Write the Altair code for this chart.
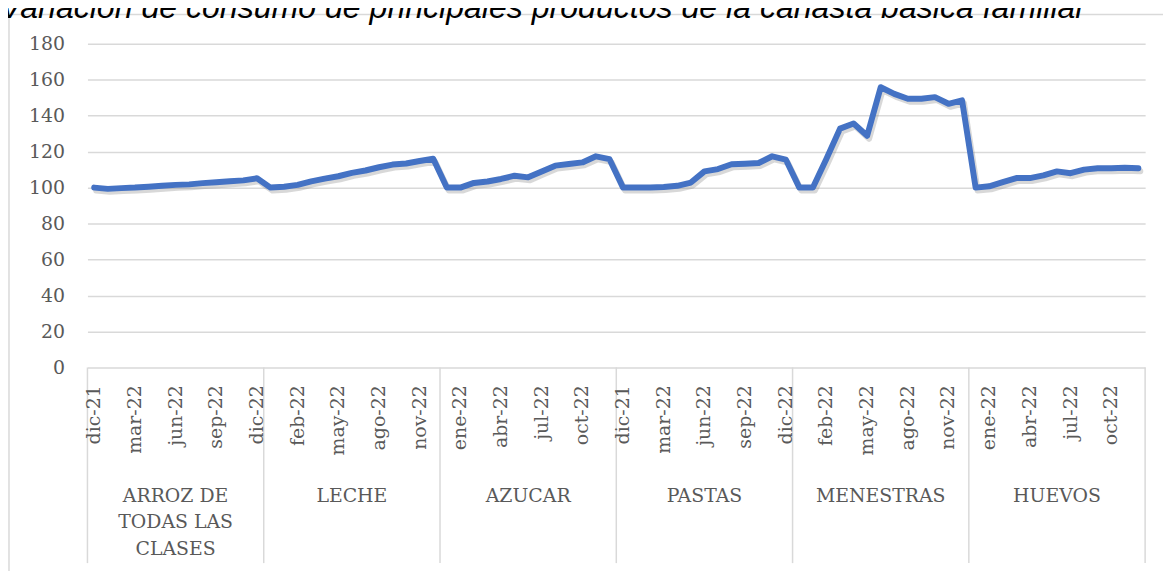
import altair as alt
import pandas as pd

title_text = "Variación de consumo de principales productos de la canasta básica familiar"

products = ["ARROZ DE\nTODAS LAS\nCLASES", "LECHE", "AZUCAR", "PASTAS", "MENESTRAS", "HUEVOS"]
months = ["dic-21", "ene-22", "feb-22", "mar-22", "abr-22", "may-22", "jun-22",
          "jul-22", "ago-22", "sep-22", "oct-22", "nov-22", "dic-22"]

arroz = [100.0, 99.3, 99.7, 100.0, 100.5, 101.0, 101.5, 101.8, 102.5, 103.0, 103.5, 104.0, 105.2]
leche = [100.0, 100.5, 101.5, 103.5, 105.0, 106.3, 108.2, 109.5, 111.3, 112.8, 113.4, 114.8, 116.0]
azucar = [100.0, 100.0, 102.6, 103.4, 104.8, 106.6, 105.7, 109.0, 112.2, 113.1, 114.0, 117.4, 115.8]
pastas = [100.0, 100.0, 100.0, 100.3, 101.0, 102.8, 109.0, 110.3, 113.0, 113.3, 113.7, 117.4, 115.6]
menestras = [100.0, 100.0, 116.0, 132.8, 135.6, 128.8, 155.8, 152.1, 149.4, 149.4, 150.3, 146.6, 148.5]
huevos = [100.0, 100.7, 103.0, 105.3, 105.3, 106.8, 109.0, 108.0, 110.0, 110.8, 110.8, 111.0, 110.8]

series = [arroz, leche, azucar, pastas, menestras, huevos]

rows = []
for p, vals in enumerate(series):
    for m, v in enumerate(vals):
        idx = p * len(months) + m
        rows.append({"idx": idx, "pos": idx + 0.5, "value": v,
                     "month": months[m], "product": products[p]})
df = pd.DataFrame(rows)

n = len(df)
W, H = 1065, 326
GRAY = "#d9d9d9"
TXT = "#595959"

xscale = alt.Scale(domain=[0, n], nice=False, zero=False)
yscale = alt.Scale(domain=[0, 180], nice=False)

yaxis = alt.Axis(values=list(range(0, 181, 20)), grid=True, gridColor=GRAY, gridWidth=1.4,
                 domain=False, ticks=False, labelFont="DejaVu Serif", labelFontSize=19,
                 labelColor=TXT, labelPadding=23, title=None)

# frame (outer chart border)
frame_top = alt.Chart(pd.DataFrame({"a": [0]})).mark_rule(color=GRAY, strokeWidth=1.5).encode(
    x=alt.value(-79), x2=alt.value(W + 30), y=alt.value(-29.3))
frame_left = alt.Chart(pd.DataFrame({"a": [0]})).mark_rule(color=GRAY, strokeWidth=1.5).encode(
    x=alt.value(-79), y=alt.value(-29.3), y2=alt.value(H + 210))

# group separators
bounds = pd.DataFrame({"b": [k * len(months) for k in range(len(products) + 1)]})
seps = alt.Chart(bounds).mark_rule(color=GRAY, strokeWidth=1.5).encode(
    x=alt.X("b:Q", scale=xscale, axis=None),
    y=alt.value(H), y2=alt.value(H + 197))

shadow = alt.Chart(df).mark_line(color="#7f7f7f", opacity=0.3, strokeWidth=6,
                                 strokeJoin="round", strokeCap="round",
                                 xOffset=2, yOffset=3).encode(
    x=alt.X("pos:Q", scale=xscale, axis=None),
    y=alt.Y("value:Q", scale=yscale, axis=yaxis),
    order="idx:Q")

line = alt.Chart(df).mark_line(color="#4472C4", strokeWidth=6,
                               strokeJoin="round", strokeCap="round").encode(
    x=alt.X("pos:Q", scale=xscale, axis=None),
    y=alt.Y("value:Q", scale=yscale, axis=yaxis),
    order="idx:Q")

labels_df = df[df["idx"] % 3 == 0]
month_labels = alt.Chart(labels_df).mark_text(
    angle=270, align="right", baseline="middle", font="DejaVu Serif",
    fontSize=19, color=TXT).encode(
    x=alt.X("pos:Q", scale=xscale, axis=None),
    y=alt.value(H + 18),
    text="month:N")

groups_df = pd.DataFrame({"center": [k * len(months) + len(months) / 2 for k in range(len(products))],
                          "product": products})
group_labels = alt.Chart(groups_df).mark_text(
    align="center", baseline="alphabetic", font="DejaVu Serif", fontSize=19,
    color=TXT, lineBreak="\n", lineHeight=26.7).encode(
    x=alt.X("center:Q", scale=xscale, axis=None),
    y=alt.value(H + 135.3),
    text="product:N")

title = alt.Chart(pd.DataFrame({"t": [title_text]})).mark_text(
    align="left", baseline="alphabetic", font="Liberation Sans", fontStyle="italic",
    fontSize=32.3, color="black").encode(
    x=alt.value(-88), y=alt.value(-26), text="t:N")

chart = alt.layer(shadow, line, frame_top, frame_left, seps, month_labels, group_labels, title).properties(
    width=W, height=H,
    autosize=alt.AutoSizeParams(type="none"),
    padding={"left": 80, "top": 34, "right": 18, "bottom": 203},
    background="white",
).configure_view(stroke=None)

chart.save("out.html", embed_options={"renderer": "svg", "actions": False})
